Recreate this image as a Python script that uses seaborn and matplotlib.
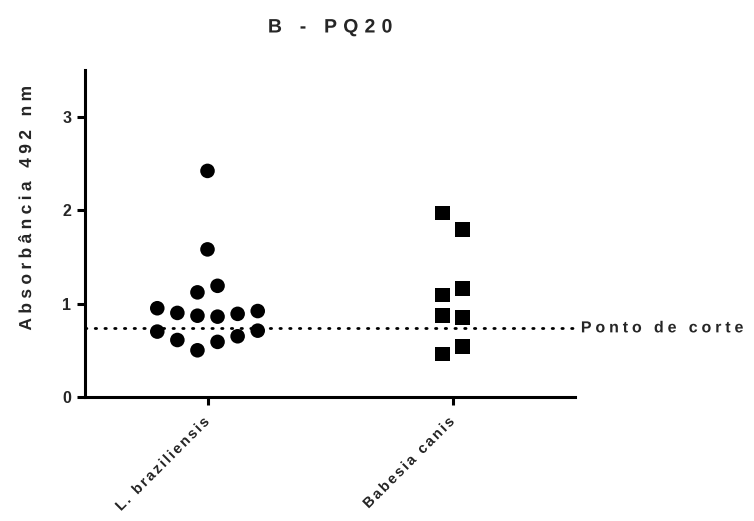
import numpy as np
import pandas as pd
import matplotlib
matplotlib.use("Agg")
import matplotlib.pyplot as plt
import seaborn as sns
from matplotlib.path import Path
from matplotlib.patheffects import AbstractPathEffect

# Absorbance readings (492 nm) for each serum group
groups = ["L. braziliensis", "Babesia canis"]
l_braziliensis = [2.42, 1.58, 1.12, 1.19, 0.95, 0.90, 0.87, 0.86, 0.89, 0.92,
                  0.70, 0.61, 0.50, 0.59, 0.65, 0.71]
babesia_canis = [1.97, 1.79, 1.09, 1.16, 0.87, 0.85, 0.46, 0.54]
cutoff = 0.74
cutoff_label = "Ponto de corte"
title = "B - PQ20"
ylabel = "Absorbância 492 nm"
yticks = [0, 1, 2, 3]


def row_offsets(values, gap=0.22, step=0.082):
    """Spread values that fall in the same horizontal row side by side."""
    vals = np.asarray(values, dtype=float)
    order = np.argsort(vals, kind="stable")
    rows, current, start = [], [], None
    for i in order:
        if start is None or vals[i] - start > gap:
            if current:
                rows.append(current)
            current, start = [i], vals[i]
        else:
            current.append(i)
    rows.append(current)
    offs = np.zeros(len(vals))
    for r in rows:
        r = sorted(r)
        n = len(r)
        for k, i in enumerate(r):
            offs[i] = (k - (n - 1) / 2) * step
    return offs


class Tracking(AbstractPathEffect):
    """Widen the spacing between glyphs of a text by a fixed pixel amount."""

    def __init__(self, spacing_px, align="left"):
        super().__init__()
        self.spacing_px = spacing_px
        self.frac = {"left": 0.0, "center": 0.5, "right": 1.0}[align]

    def draw_path(self, renderer, gc, tpath, affine, rgbFace=None):
        codes = tpath.codes
        if codes is None or len(codes) == 0:
            renderer.draw_path(gc, tpath, affine, rgbFace)
            return
        verts = tpath.vertices.copy()
        scale = np.hypot(*affine.get_matrix()[:2, 0])
        sp = self.spacing_px / scale
        starts = list(np.flatnonzero(codes == Path.MOVETO)) + [len(codes)]
        contours = []
        for a, b in zip(starts[:-1], starts[1:]):
            m = codes[a:b] != Path.CLOSEPOLY
            xs = verts[a:b][m, 0]
            contours.append((xs.min(), xs.max(), a, b))
        contours.sort()
        glyphs = []
        for c in contours:
            if glyphs and c[0] < glyphs[-1][1] - 1.0:
                glyphs[-1][1] = max(glyphs[-1][1], c[1])
                glyphs[-1][2].append(c)
            else:
                glyphs.append([c[0], c[1], [c]])
        shift, shifts = 0.0, []
        for k, g in enumerate(glyphs):
            if k > 0:
                shift += sp
                if g[0] - glyphs[k - 1][1] > 20.0:  # word space
                    shift += sp
            shifts.append(shift)
        total = shifts[-1] if shifts else 0.0
        for g, s in zip(glyphs, shifts):
            for _, _, a, b in g[2]:
                verts[a:b, 0] += s - self.frac * total
        renderer.draw_path(gc, Path(verts, codes), affine, rgbFace)


frames = []
for gi, (name, vals) in enumerate(zip(groups, [l_braziliensis, babesia_canis])):
    frames.append(pd.DataFrame({
        "group": name,
        "x": gi + row_offsets(vals),
        "y": vals,
    }))
df = pd.concat(frames, ignore_index=True)

sns.set_style("ticks")
plt.rcParams["font.family"] = ["Liberation Sans", "DejaVu Sans"]
plt.rcParams["font.weight"] = "bold"

fig = plt.figure(figsize=(7.54, 5.21), dpi=100)
ax = fig.add_axes([85 / 754, 1 - 397 / 521, 490 / 754, 327 / 521])

sns.scatterplot(data=df, x="x", y="y", hue="group", style="group",
                markers={groups[0]: "o", groups[1]: "s"},
                palette={groups[0]: "black", groups[1]: "black"},
                s=110, edgecolor="none", legend=False, ax=ax)

ax.axhline(cutoff, color="black", lw=2.0, ls=(0, (0.5, 3.0)),
           dash_capstyle="round", zorder=1)
ax.text(1.012, cutoff, cutoff_label, transform=ax.get_yaxis_transform(),
        ha="left", va="center", fontsize=11.5, fontweight="bold", clip_on=False,
        path_effects=[Tracking(3.9, "left")])

ax.set_xlim(-0.5, 1.5)
ax.set_ylim(0, 3.5)
ax.set_xticks(range(len(groups)))
ax.set_xticklabels(groups, rotation=45, ha="right", va="center",
                   rotation_mode="anchor", fontsize=10.5, fontweight="bold")
for lab in ax.get_xticklabels():
    lab.set_path_effects([Tracking(2.1, "right")])
ax.set_yticks(yticks)
ax.set_yticklabels([str(t) for t in yticks], fontsize=11.5, fontweight="bold")
ax.tick_params(axis="both", length=6, width=2.2, color="black", pad=4)
ax.tick_params(axis="x", pad=10)

for side in ("top", "right"):
    ax.spines[side].set_visible(False)
for side in ("left", "bottom"):
    ax.spines[side].set_linewidth(2.2)
    ax.spines[side].set_color("black")

ax.set_xlabel("")
ax.set_ylabel(ylabel, fontsize=12.5, fontweight="bold",
              path_effects=[Tracking(4.4, "center")])
ax.yaxis.set_label_coords(-0.104, 0.578)
ax.set_title(title, fontsize=14, fontweight="bold", pad=27,
             path_effects=[Tracking(6.2, "center")])

fig.savefig("out.png", dpi=100, facecolor="white")
